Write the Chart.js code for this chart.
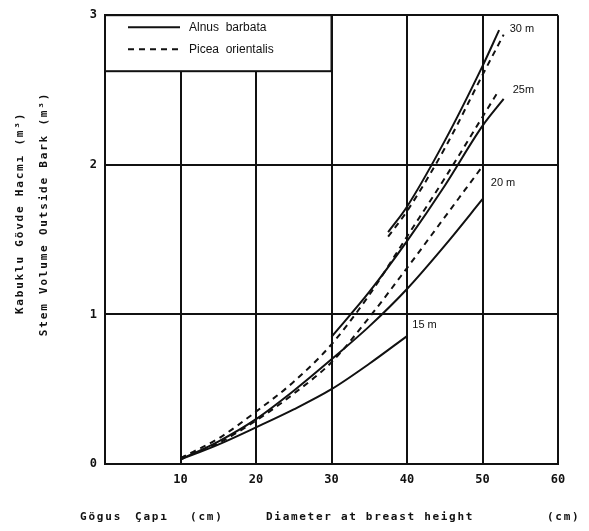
<!DOCTYPE html>
<html lang="tr">
<head>
    <meta charset="UTF-8">
    <title>Stem volume</title>
    <script src="https://cdn.jsdelivr.net/npm/chart.js"></script>
    <style>
        body { margin: 0; padding: 0; background: #fff; }
        canvas { display: block; }
    </style>
</head>
<body>
    <canvas id="myChart" width="589" height="531"></canvas>
    <script>
        // dbh (cm) and volume (m3)
        const alnus15Dbh = [10, 15, 20, 25, 30, 35, 40];
        const alnus15Vol = [0.03, 0.13, 0.245, 0.365, 0.50, 0.67, 0.855];
        const alnus20Dbh = [10, 15, 20, 25, 30, 35, 40, 45, 50];
        const alnus20Vol = [0.03, 0.15, 0.30, 0.49, 0.70, 0.92, 1.17, 1.46, 1.77];
        const alnus25Dbh = [30, 35, 40, 45, 50, 52.8];
        const alnus25Vol = [0.85, 1.15, 1.49, 1.86, 2.26, 2.44];
        const alnus30Dbh = [37.5, 40, 45, 50, 52.2];
        const alnus30Vol = [1.55, 1.72, 2.16, 2.66, 2.90];

        const picea20Dbh = [10, 15, 20, 25, 30, 35, 40, 45, 50];
        const picea20Vol = [0.04, 0.14, 0.29, 0.47, 0.68, 0.98, 1.31, 1.65, 1.99];
        const picea25Dbh = [10, 15, 20, 25, 30, 35, 40, 45, 50, 52.2];
        const picea25Vol = [0.04, 0.17, 0.35, 0.55, 0.80, 1.13, 1.52, 1.91, 2.32, 2.50];
        const picea30Dbh = [37.5, 40, 45, 50, 52.8];
        const picea30Vol = [1.52, 1.69, 2.11, 2.60, 2.87];

        const species = ['Alnus  barbata', 'Picea  orientalis'];
        const heightLabels = ['15 m', '20 m', '25m', '30 m'];
        const xTicks = [10, 20, 30, 40, 50, 60];

        // where the height labels sit (data units)
        const labelDbh = [40.7, 51.1, 54.0, 53.6];
        const labelVol = [0.93, 1.88, 2.50, 2.91];

        const pts = (xs, ys) => xs.map((x, i) => ({ x: x, y: ys[i] }));

        function curve(xs, ys, dashed) {
            return {
                data: pts(xs, ys),
                borderColor: '#111',
                borderWidth: 2,
                borderDash: dashed ? [6, 5] : [],
                pointRadius: 0,
                cubicInterpolationMode: 'monotone',
                fill: false
            };
        }

        const mono = '"DejaVu Sans Mono", monospace';

        const extras = {
            id: 'extras',
            afterDatasetsDraw(chart) {
                const ctx = chart.ctx;
                const xs = chart.scales.x, ys = chart.scales.y;
                const area = chart.chartArea;
                ctx.save();

                // legend box
                const bx = area.left, by = area.top;
                const bw = xs.getPixelForValue(30) - area.left, bh = 56;
                ctx.fillStyle = '#fff';
                ctx.fillRect(bx, by, bw, bh);
                ctx.strokeStyle = '#111';
                ctx.lineWidth = 2;
                ctx.strokeRect(bx, by, bw, bh);
                ctx.font = '12px "Liberation Sans", sans-serif';
                ctx.fillStyle = '#111';
                ctx.textBaseline = 'middle';
                species.forEach((name, i) => {
                    const yy = by + 12 + i * 22;
                    ctx.setLineDash(i === 0 ? [] : [6, 5]);
                    ctx.beginPath();
                    ctx.moveTo(bx + 23, yy);
                    ctx.lineTo(bx + 75, yy);
                    ctx.stroke();
                    ctx.fillText(name, bx + 84, yy);
                });
                ctx.setLineDash([]);

                // height labels
                ctx.font = '11px "Liberation Sans", sans-serif';
                heightLabels.forEach((t, i) => {
                    ctx.fillText(t, xs.getPixelForValue(labelDbh[i]), ys.getPixelForValue(labelVol[i]));
                });

                // axis titles
                ctx.font = 'bold 11px ' + mono;
                ctx.letterSpacing = '1.8px';
                ctx.textAlign = 'center';
                ctx.save();
                ctx.translate(20, 213);
                ctx.rotate(-Math.PI / 2);
                ctx.fillText('Kabuklu Gövde Hacmı (m³)', 0, 0);
                ctx.restore();
                ctx.save();
                ctx.translate(44, 214);
                ctx.rotate(-Math.PI / 2);
                ctx.fillText('Stem Volume Outside Bark (m³)', 0, 0);
                ctx.restore();

                ctx.textAlign = 'left';
                const ty = 517;
                ctx.fillText('Gögus', 80, ty);
                ctx.fillText('Çapı', 135, ty);
                ctx.fillText('(cm)', 190, ty);
                ctx.letterSpacing = '1.7px';
                ctx.fillText('Diameter at breast height', 266, ty);
                ctx.fillText('(cm)', 547, ty);
                ctx.restore();
            }
        };

        new Chart(document.getElementById('myChart'), {
            type: 'line',
            data: {
                datasets: [
                    curve(alnus15Dbh, alnus15Vol, false),
                    curve(alnus20Dbh, alnus20Vol, false),
                    curve(alnus25Dbh, alnus25Vol, false),
                    curve(alnus30Dbh, alnus30Vol, false),
                    curve(picea20Dbh, picea20Vol, true),
                    curve(picea25Dbh, picea25Vol, true),
                    curve(picea30Dbh, picea30Vol, true)
                ]
            },
            options: {
                responsive: false,
                animation: false,
                devicePixelRatio: 1,
                layout: { padding: { left: 0, right: 31, top: 6, bottom: 0 } },
                plugins: { legend: { display: false }, tooltip: { enabled: false } },
                scales: {
                    x: {
                        type: 'linear',
                        min: 0,
                        max: 60,
                        afterFit: s => { s.height = 67; },
                        afterBuildTicks: s => { s.ticks = [0].concat(xTicks).map(v => ({ value: v })); },
                        ticks: {
                            callback: v => v === 0 ? '' : v,
                            color: '#111',
                            padding: 9,
                            maxRotation: 0,
                            font: { family: mono, size: 12, weight: 'bold' }
                        },
                        grid: { color: '#111', lineWidth: 2, drawTicks: false },
                        border: { color: '#111', width: 2 }
                    },
                    y: {
                        min: 0,
                        max: 3,
                        afterFit: s => { s.width = 105; },
                        ticks: {
                            stepSize: 1,
                            color: '#111',
                            padding: 8,
                            font: { family: mono, size: 12, weight: 'bold' }
                        },
                        grid: { color: '#111', lineWidth: 2, drawTicks: false },
                        border: { color: '#111', width: 2 }
                    }
                }
            },
            plugins: [extras]
        });
    </script>
</body>
</html>
